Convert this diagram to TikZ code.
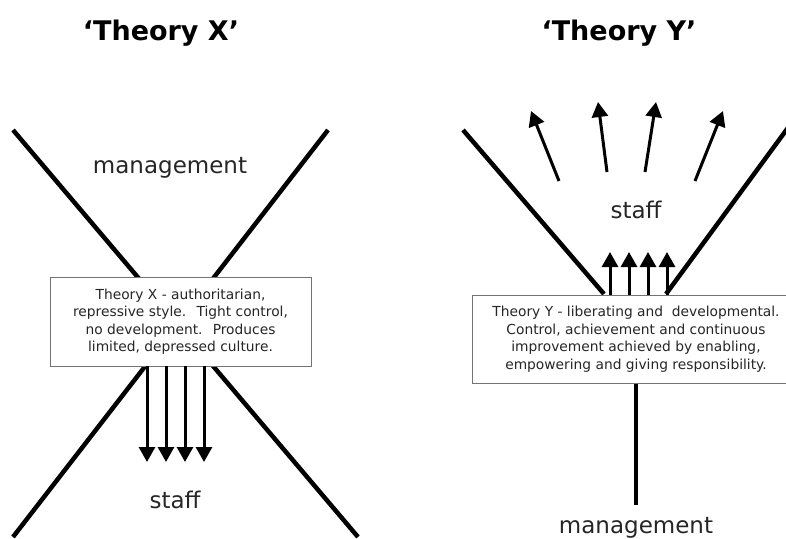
\documentclass[tikz,border=0pt]{standalone}
\usepackage{fontspec}
\setmainfont{DejaVu Sans}
\usetikzlibrary{arrows.meta}
\tikzset{
	limb/.style={line width=4.5pt},
	push/.style={line width=3pt, -{Triangle[length=15pt,width=16pt]}},
	notebox/.style={draw=black!55, line width=0.9pt, fill=white, align=center, inner sep=0pt, text=black!85, font=\fontsize{13.8}{17.5}\selectfont},
	word/.style={anchor=base, text=black!85, font=\fontsize{23}{27}\selectfont},
	heading/.style={anchor=base, font=\bfseries\fontsize{27}{32}\selectfont},
}

\begin{document}
\begin{tikzpicture}[x=1pt, y=-1pt]
			%%%%% START %%%%%
			
			\clip (0, 0) rectangle (786, 538);
			\fill[white] (0, 0) rectangle (786, 538);
			
			% Theory X
			\node[heading] (titleX) at (161, 40) {`Theory X'};
			\draw[limb] (13, 130) -- (358, 537);
			\draw[limb] (328, 130) -- (13, 537);
			\node[word] (mgmtX) at (170, 173) {management};
			\node[word] (staffX) at (175, 508) {staff};
			\node[notebox, minimum width=261pt, minimum height=89pt] (boxX) at (180.5, 321.5)
				{Theory X - authoritarian,\\ repressive style.~ Tight control,\\ no development.~ Produces\\ limited, depressed culture.};
			\foreach \a in {147, 166, 185, 204}
				\draw[push] (\a, 366) -- (\a, 462);
			
			% Theory Y
			\node[heading] (titleY) at (619, 40) {`Theory Y'};
			\draw[limb] (463, 130) -- (604, 294);
			\draw[limb] (790, 125) -- (666, 294);
			\draw[limb] (636, 383) -- (636, 505);
			\node[word] (staffY) at (636, 218) {staff};
			\node[word] (mgmtY) at (636, 533) {management};
			\node[notebox, minimum width=328pt, minimum height=88pt] (boxY) at (636, 339)
				{Theory Y - liberating and~ developmental.\\ Control, achievement and continuous\\ improvement achieved by enabling,\\ empowering and giving responsibility.};
			\foreach \a in {610, 629, 648, 667}
				\draw[push] (\a, 295) -- (\a, 252);
			
			\draw[push] (559, 181) -- (531, 111);
			\draw[push] (607, 172) -- (598, 102);
			\draw[push] (645, 172) -- (656, 102);
			\draw[push] (695, 181) -- (723, 111);
			
			%%%%% END %%%%%
\end{tikzpicture}
\end{document}
